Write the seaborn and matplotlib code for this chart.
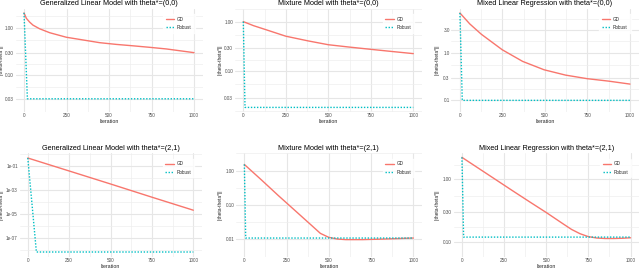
import numpy as np
import pandas as pd
import matplotlib
matplotlib.use("Agg")
import matplotlib.pyplot as plt
import seaborn as sns

# ---- data (iteration, ||theta - theta*||) ----
titles = [
    "Generalized Linear Model with theta*=(0,0)",
    "Mixture Model with theta*=(0,0)",
    "Mixed Linear Regression with theta*=(0,0)",
    "Generalized Linear Model with theta*=(2,1)",
    "Mixture Model with theta*=(2,1)",
    "Mixed Linear Regression with theta*=(2,1)",
]
methods = ["GD", "Robust"]

glm00_gd_iter = [0, 14, 33, 53, 92, 151, 249, 347, 445, 543, 641, 739, 837, 1000]
glm00_gd = [2.12, 1.62, 1.35, 1.16, 0.97, 0.80, 0.64, 0.56, 0.49, 0.45, 0.42, 0.39, 0.36, 0.30]
glm00_rb_iter = [0, 20, 250, 500, 750, 1000]
glm00_rb = [2.12, 0.031, 0.031, 0.031, 0.031, 0.031]

mix00_gd_iter = [0, 60, 127, 250, 382, 500, 618, 750, 873, 1000]
mix00_gd = [1.0, 0.83, 0.70, 0.51, 0.41, 0.344, 0.31, 0.278, 0.252, 0.228]
mix00_rb_iter = [0, 10, 250, 500, 750, 1000]
mix00_rb = [1.0, 0.019, 0.019, 0.019, 0.019, 0.019]

mlr00_gd_iter = [0, 58, 126, 249, 369, 495, 621, 748, 874, 1000]
mlr00_gd = [6.9, 4.06, 2.46, 1.16, 0.66, 0.44, 0.34, 0.286, 0.254, 0.22]
mlr00_rb_iter = [0, 14, 250, 500, 750, 1000]
mlr00_rb = [6.9, 0.10, 0.10, 0.10, 0.10, 0.10]

glm21_gd_iter = [0, 250, 500, 750, 1000]
glm21_gd = [0.43, 0.036, 0.0030, 2.4e-4, 2.0e-5]
glm21_rb_iter = [0, 26, 52, 250, 500, 750, 1000]
glm21_rb = [0.43, 5.4e-5, 6.8e-9, 6.8e-9, 6.8e-9, 6.8e-9, 6.8e-9]

mix21_gd_iter = [0, 100, 200, 300, 400, 450, 500, 550, 600, 700, 800, 900, 1000]
mix21_gd = [1.5, 0.54, 0.19, 0.069, 0.025, 0.015, 0.0115, 0.0103, 0.0099, 0.0099, 0.0102, 0.0106, 0.011]
mix21_rb_iter = [0, 8, 250, 500, 750, 1000]
mix21_rb = [1.5, 0.011, 0.011, 0.011, 0.011, 0.011]

mlr21_gd_iter = [0, 100, 200, 300, 400, 500, 600, 650, 700, 750, 800, 850, 900, 950, 1000]
mlr21_gd = [2.26, 1.50, 0.995, 0.66, 0.44, 0.295, 0.194, 0.158, 0.135, 0.121, 0.115, 0.113, 0.113, 0.114, 0.116]
mlr21_rb_iter = [0, 10, 250, 500, 750, 1000]
mlr21_rb = [2.26, 0.119, 0.119, 0.119, 0.119, 0.119]

panels = [
    (glm00_gd_iter, glm00_gd, glm00_rb_iter, glm00_rb),
    (mix00_gd_iter, mix00_gd, mix00_rb_iter, mix00_rb),
    (mlr00_gd_iter, mlr00_gd, mlr00_rb_iter, mlr00_rb),
    (glm21_gd_iter, glm21_gd, glm21_rb_iter, glm21_rb),
    (mix21_gd_iter, mix21_gd, mix21_rb_iter, mix21_rb),
    (mlr21_gd_iter, mlr21_gd, mlr21_rb_iter, mlr21_rb),
]

y_ticks = [
    ([0.03, 0.1, 0.3, 1.0], ["0.03", "0.10", "0.30", "1.00"]),
    ([0.03, 0.1, 0.3, 1.0], ["0.03", "0.10", "0.30", "1.00"]),
    ([0.1, 0.3, 1.0, 3.0], ["0.1", "0.3", "1.0", "3.0"]),
    ([1e-7, 1e-5, 1e-3, 1e-1], ["1e-07", "1e-05", "1e-03", "1e-01"]),
    ([0.01, 0.1, 1.0], ["0.01", "0.10", "1.00"]),
    ([0.1, 0.3, 1.0], ["0.10", "0.30", "1.00"]),
]
x_ticks = [0, 250, 500, 750, 1000]

sns.set_theme(style="white")
plt.rcParams["font.family"] = ["Liberation Sans", "DejaVu Sans"]

W, H = 640, 268
fig = plt.figure(figsize=(W / 100, H / 100), dpi=100)

# panel boxes in pixels: (left, right, top, bottom), y-label x position
boxes = [
    (15.5, 202.5, 8.6, 111.7, 3.5),
    (234.8, 421.8, 8.6, 111.7, 222.5),
    (451.4, 638.5, 8.6, 111.7, 439.5),
    (19.5, 201.6, 153.3, 256.7, 3.5),
    (235.9, 421.8, 153.3, 256.7, 222.5),
    (453.5, 639.0, 153.3, 256.7, 439.5),
]

palette = {"GD": "#F8766D", "Robust": "#00BFC4"}
dashes = {"GD": "", "Robust": (1, 1.2)}

for i, (gi, gv, ri, rv) in enumerate(panels):
    l, r, t, b, ylx = boxes[i]
    ax = fig.add_axes([l / W, 1 - b / H, (r - l) / W, (b - t) / H])

    df = pd.concat([
        pd.DataFrame({"Iteration": gi, "err": gv, "method": "GD"}),
        pd.DataFrame({"Iteration": ri, "err": rv, "method": "Robust"}),
    ])
    sns.lineplot(data=df, x="Iteration", y="err", hue="method", style="method",
                 palette=palette, dashes=dashes, hue_order=methods,
                 style_order=methods, ax=ax, linewidth=1.0, sort=False)
    ax.set_yscale("log")

    ticks, labels = y_ticks[i]
    ax.set_yticks(ticks)
    ax.set_yticklabels(labels)
    lt = np.log10(ticks)
    step = lt[1] - lt[0]
    minor = np.concatenate([[lt[0] - step / 2], (lt[:-1] + lt[1:]) / 2, [lt[-1] + step / 2]])
    ax.set_yticks(10 ** minor, minor=True)
    ax.set_xticks(x_ticks)
    ax.set_xticks([125, 375, 625, 875], minor=True)
    ax.yaxis.set_minor_formatter(plt.NullFormatter())

    ax.grid(True, which="major", color="#E6E6E6", linewidth=0.8)
    ax.grid(True, which="minor", color="#EEEEEE", linewidth=0.5)
    ax.set_axisbelow(True)
    for s in ax.spines.values():
        s.set_visible(False)
    ax.tick_params(which="both", length=0, labelsize=3.3, colors="#4D4D4D", pad=1.2)

    ax.set_title(titles[i], fontsize=5.2, color="black", pad=2.5)
    ax.set_xlabel("Iteration", fontsize=3.8, labelpad=0.5)
    ax.set_ylabel("||theta-theta*||", fontsize=3.5)
    ax.yaxis.set_label_coords((ylx - l) / (r - l), 0.5)

    leg = ax.legend(loc="upper right", bbox_to_anchor=(0.97, 0.97), fontsize=3.3,
                    frameon=True, handlelength=1.8, borderpad=0.6, labelspacing=0.7,
                    handletextpad=0.6)
    leg.get_frame().set_facecolor("white")
    leg.get_frame().set_edgecolor("white")

fig.savefig("out.png", dpi=100)
plt.close(fig)
